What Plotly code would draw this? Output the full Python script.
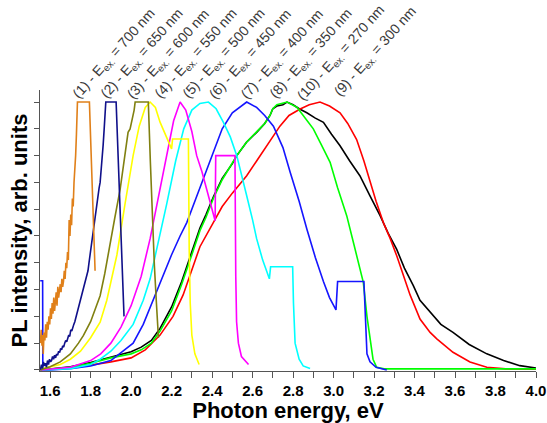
import plotly.graph_objects as go

# ---------------- data (normalized PL spectra) ----------------
x1 = [1.552, 1.556, 1.560, 1.563, 1.566, 1.570, 1.574, 1.578, 1.582, 1.586, 1.590, 1.594, 1.598, 1.602,
      1.606, 1.610, 1.614, 1.618, 1.622, 1.626, 1.630, 1.634, 1.638, 1.642, 1.646, 1.650, 1.654, 1.658,
      1.662, 1.666, 1.670, 1.674, 1.678, 1.682, 1.686, 1.690, 1.694, 1.698, 1.702, 1.706, 1.710, 1.714,
      1.718, 1.722, 1.726, 1.730, 1.735, 1.794, 1.800, 1.806, 1.812, 1.817, 1.822]
y1 = [0.10, 0.15, 0.09, 0.13, 0.06, 0.14, 0.11, 0.17, 0.12, 0.18, 0.15, 0.20, 0.17, 0.23,
      0.19, 0.25, 0.21, 0.27, 0.22, 0.26, 0.29, 0.24, 0.31, 0.27, 0.30, 0.32, 0.29, 0.34,
      0.31, 0.33, 0.37, 0.34, 0.40, 0.38, 0.44, 0.41, 0.56, 0.50, 0.58, 0.54, 0.64, 0.61,
      0.70, 0.74, 0.80, 0.88, 1.00, 1.00, 0.86, 0.72, 0.58, 0.47, 0.37]

x2 = [1.552, 1.557, 1.562, 1.567, 1.572, 1.577, 1.582, 1.587, 1.592, 1.597, 1.602, 1.607, 1.612, 1.617,
      1.622, 1.627, 1.632, 1.637, 1.642, 1.647, 1.652, 1.657, 1.662, 1.667, 1.672, 1.677, 1.682, 1.687,
      1.692, 1.697, 1.702, 1.707, 1.712, 1.717, 1.722, 1.727, 1.732, 1.737, 1.742, 1.747, 1.752, 1.757,
      1.762, 1.767, 1.772, 1.777, 1.782, 1.787, 1.792, 1.797, 1.802, 1.807, 1.812, 1.817, 1.822, 1.827,
      1.832, 1.837, 1.842, 1.847, 1.852, 1.857, 1.862, 1.867, 1.872, 1.875, 1.926, 1.935, 1.945, 1.955, 1.965]
y2 = [0.00, 0.02, 0.005, 0.03, 0.015, 0.025, 0.01, 0.035, 0.02, 0.04, 0.03, 0.035, 0.05, 0.04,
      0.055, 0.045, 0.06, 0.055, 0.07, 0.065, 0.08, 0.075, 0.09, 0.085, 0.10, 0.11, 0.105, 0.12,
      0.13, 0.125, 0.15, 0.145, 0.165, 0.17, 0.18, 0.195, 0.21, 0.22, 0.24, 0.245, 0.265, 0.28,
      0.29, 0.31, 0.32, 0.34, 0.36, 0.37, 0.40, 0.43, 0.45, 0.49, 0.51, 0.55, 0.57, 0.60,
      0.62, 0.66, 0.68, 0.70, 0.74, 0.78, 0.84, 0.90, 0.96, 1.00, 1.00, 0.82, 0.60, 0.40, 0.20]

x3 = [1.552, 1.60, 1.65, 1.70, 1.74, 1.764, 1.80, 1.847, 1.87, 1.896, 1.92, 1.946, 1.965, 1.985,
      1.995, 2.005, 2.015, 2.020, 2.085, 2.095, 2.105, 2.115, 2.125, 2.135]
y3 = [0.00, 0.012, 0.03, 0.06, 0.10, 0.128, 0.18, 0.277, 0.36, 0.477, 0.57, 0.675, 0.77, 0.887,
      0.90, 0.93, 0.97, 1.00, 1.00, 0.78, 0.56, 0.39, 0.25, 0.12]

x4 = [1.552, 1.65, 1.70, 1.75, 1.80, 1.847, 1.88, 1.93, 1.97, 2.01, 2.04, 2.07, 2.094, 2.12,
      2.143, 2.17, 2.193, 2.200, 2.205, 2.283, 2.287, 2.292, 2.300, 2.315, 2.336]
y4 = [0.003, 0.02, 0.04, 0.07, 0.12, 0.178, 0.26, 0.43, 0.62, 0.80, 0.91, 0.98, 1.00, 0.98,
      0.925, 0.88, 0.837, 0.825, 0.862, 0.862, 0.45, 0.25, 0.13, 0.06, 0.02]

x5 = [1.552, 1.70, 1.80, 1.85, 1.90, 1.95, 2.00, 2.05, 2.094, 2.13, 2.176, 2.21, 2.242, 2.27,
      2.30, 2.324, 2.35, 2.374, 2.395, 2.415, 2.418, 2.513, 2.517, 2.521, 2.53, 2.545, 2.58]
y5 = [0.0, 0.01, 0.035, 0.06, 0.10, 0.16, 0.24, 0.35, 0.49, 0.63, 0.80, 0.93, 1.00, 0.97,
      0.89, 0.80, 0.74, 0.675, 0.61, 0.557, 0.80, 0.80, 0.35, 0.18, 0.10, 0.05, 0.02]

x6 = [1.552, 1.70, 1.80, 1.847, 1.90, 1.95, 2.01, 2.06, 2.094, 2.13, 2.176, 2.22, 2.26, 2.30,
      2.34, 2.382, 2.42, 2.456, 2.49, 2.522, 2.55, 2.571, 2.60, 2.62, 2.65, 2.678, 2.683, 2.689,
      2.798, 2.802, 2.81, 2.83, 2.85, 2.884]
y6 = [0.0, 0.005, 0.02, 0.04, 0.07, 0.11, 0.17, 0.26, 0.34, 0.46, 0.62, 0.78, 0.90, 0.97,
      0.995, 1.00, 0.975, 0.924, 0.87, 0.80, 0.72, 0.65, 0.56, 0.49, 0.41, 0.346, 0.34, 0.385,
      0.385, 0.25, 0.10, 0.04, 0.015, 0.005]

x7 = [1.551, 1.563, 1.564, 1.60, 1.70, 1.80, 1.90, 2.01, 2.06, 2.11, 2.16, 2.20, 2.242, 2.275,
      2.32, 2.34, 2.40, 2.45, 2.50, 2.571, 2.62, 2.66, 2.703, 2.75, 2.785, 2.83, 2.868, 2.91,
      2.95, 2.98, 3.012, 3.02, 3.15, 3.158, 3.165, 3.18, 3.21, 3.263]
y7 = [0.333, 0.333, 0.0, 0.0, 0.005, 0.015, 0.035, 0.10, 0.17, 0.265, 0.36, 0.43, 0.50, 0.55,
      0.64, 0.68, 0.80, 0.90, 0.96, 1.00, 0.98, 0.95, 0.91, 0.83, 0.74, 0.63, 0.526, 0.42,
      0.33, 0.27, 0.224, 0.33, 0.33, 0.15, 0.06, 0.03, 0.01, 0.0]

x8 = [1.552, 1.70, 1.80, 1.90, 2.00, 2.05, 2.10, 2.143, 2.20, 2.25, 2.30, 2.34, 2.37, 2.406,
      2.45, 2.50, 2.522, 2.57, 2.62, 2.66, 2.686, 2.70, 2.72, 2.77, 2.82, 2.86, 2.90, 2.94,
      2.983, 3.02, 3.065, 3.10, 3.13, 3.147, 3.165, 3.18, 3.195, 3.213, 3.25, 3.5, 3.8, 4.0]
y8 = [0.0, 0.01, 0.025, 0.045, 0.06, 0.075, 0.10, 0.145, 0.22, 0.32, 0.43, 0.52, 0.57, 0.64,
      0.71, 0.77, 0.80, 0.85, 0.89, 0.92, 0.95, 0.975, 0.99, 1.00, 0.98, 0.94, 0.90, 0.84,
      0.775, 0.68, 0.576, 0.47, 0.377, 0.327, 0.20, 0.116, 0.04, 0.01, 0.004, 0.004, 0.004, 0.004]

x9 = [1.552, 1.70, 1.80, 1.90, 2.00, 2.07, 2.143, 2.207, 2.257, 2.30, 2.34, 2.406, 2.45, 2.50,
      2.571, 2.62, 2.67, 2.735, 2.78, 2.835, 2.88, 2.933, 2.98, 3.032, 3.07, 3.114, 3.15, 3.18,
      3.21, 3.246, 3.28, 3.312, 3.35, 3.378, 3.427, 3.477, 3.51, 3.55, 3.59, 3.674, 3.757, 3.85, 4.0]
y9 = [0.0, 0.008, 0.018, 0.03, 0.045, 0.075, 0.13, 0.20, 0.28, 0.37, 0.46, 0.55, 0.61, 0.66,
      0.725, 0.78, 0.837, 0.91, 0.95, 0.974, 0.99, 1.00, 0.985, 0.96, 0.92, 0.86, 0.78, 0.70,
      0.63, 0.55, 0.49, 0.426, 0.34, 0.28, 0.19, 0.14, 0.116, 0.09, 0.066, 0.03, 0.01, 0.004, 0.003]

x10 = [1.552, 1.70, 1.80, 1.90, 2.00, 2.05, 2.10, 2.143, 2.20, 2.25, 2.30, 2.34, 2.37, 2.406,
       2.45, 2.50, 2.522, 2.57, 2.62, 2.66, 2.686, 2.70, 2.72, 2.75, 2.77, 2.80, 2.83, 2.868,
       2.91, 2.95, 2.99, 3.032, 3.08, 3.13, 3.18, 3.23, 3.27, 3.312, 3.35, 3.394, 3.427, 3.477,
       3.53, 3.59, 3.67, 3.757, 3.84, 3.92, 4.0]
y10 = [0.0, 0.012, 0.028, 0.048, 0.068, 0.085, 0.11, 0.155, 0.235, 0.33, 0.44, 0.53, 0.58, 0.645,
       0.715, 0.77, 0.80, 0.85, 0.887, 0.92, 0.95, 0.975, 0.985, 0.99, 1.00, 0.99, 0.975, 0.96,
       0.94, 0.924, 0.88, 0.837, 0.78, 0.725, 0.65, 0.576, 0.51, 0.45, 0.38, 0.315, 0.26, 0.215,
       0.17, 0.14, 0.095, 0.06, 0.035, 0.016, 0.007]

series_x = [x1, x2, x3, x4, x5, x6, x7, x8, x9, x10]
series_y = [y1, y2, y3, y4, y5, y6, y7, y8, y9, y10]
curve_ids = ["(1)", "(2)", "(3)", "(4)", "(5)", "(6)", "(7)", "(8)", "(9)", "(10)"]
excitation_nm = [700, 650, 600, 550, 500, 450, 400, 350, 300, 270]

# label order as printed along the top of the chart
label_order = [0, 1, 2, 3, 4, 5, 6, 7, 9, 8]

# ---------------- styling ----------------
colors = ["#E0801A", "#10108A", "#808010", "#FFFF00", "#FF00FF",
          "#00FFFF", "#1515FF", "#00FF00", "#FF0000", "#000000"]
label_x = [1.686, 1.824, 1.957, 2.091, 2.229, 2.362, 2.520, 2.659, 2.797, 2.975]
label_y = [0.992] * 8 + [0.986, 1.001]

fig = go.Figure()
draw_order = [9, 8, 7, 6, 5, 4, 3, 2, 1, 0]
for i in draw_order:
    fig.add_trace(go.Scatter(
        x=series_x[i], y=series_y[i], mode="lines",
        line=dict(color=colors[i], width=1.6),
        name=f"{curve_ids[i]} - E<sub>ex.</sub> = {excitation_nm[i]} nm",
        showlegend=False, hoverinfo="skip"))

for k, i in enumerate(label_order):
    fig.add_annotation(
        x=label_x[k], y=label_y[k], xref="x", yref="y",
        text=f"{curve_ids[i]} - E<sub>ex.</sub> = {excitation_nm[i]} nm",
        textangle=-48, showarrow=False, xanchor="left", yanchor="bottom", borderpad=0,
        font=dict(family="Liberation Sans, Arial, sans-serif", size=14, color="#3a3a3a"))

fig.update_layout(
    width=547, height=423,
    margin=dict(l=40, r=11, t=90, b=52, autoexpand=False),
    paper_bgcolor="white", plot_bgcolor="white",
    font=dict(family="Liberation Sans, Arial, sans-serif", color="black"),
    showlegend=False,
)
fig.update_xaxes(
    range=[1.55, 4.0], tickmode="linear", tick0=1.6, dtick=0.2, automargin=False,
    ticks="outside", ticklen=6, tickwidth=1, tickcolor="#555",
    minor=dict(tick0=1.6, dtick=0.1, ticks="outside", ticklen=6, tickcolor="#555", showgrid=False),
    tickformat=".1f",
    showline=True, linecolor="#555", linewidth=1, showgrid=False, zeroline=False,
    tickfont=dict(size=15, weight="bold", color="black"),
    title=dict(text="Photon energy, eV", font=dict(size=22, weight="bold", color="black"), standoff=4),
)
fig.update_yaxes(
    range=[-0.004, 1.045], tickmode="linear", tick0=0, dtick=0.1, automargin=False,
    ticks="outside", ticklen=5, tickwidth=1, tickcolor="#555",
    showticklabels=False,
    showline=True, linecolor="#555", linewidth=1, showgrid=False, zeroline=False,
    title=dict(text="PL intensity, arb. units", font=dict(size=22, weight="bold", color="black"), standoff=0),
)

# remove the default 8 px page margin so the 547x423 figure fills the window exactly
fig.write_html("out.html", config={"displayModeBar": False},
               post_script="document.body.style.margin='0';")
